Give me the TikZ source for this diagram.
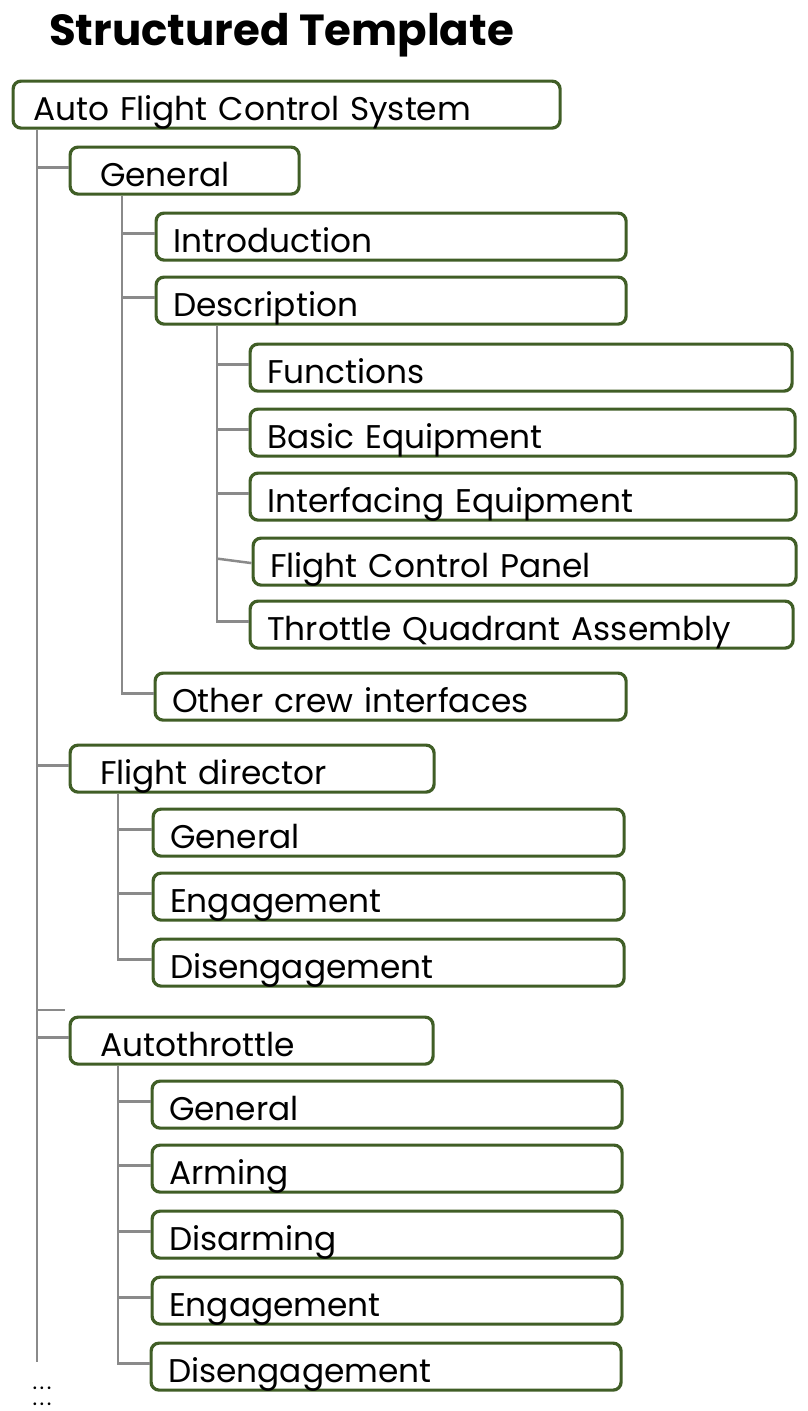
\documentclass[tikz,border=0pt]{standalone}
\usepackage{fontspec}
\setmainfont{Poppins}
\usepackage{tikz}
\usetikzlibrary{positioning}

\definecolor{boxgreen}{RGB}{64,94,38}
\definecolor{linegray}{RGB}{138,138,138}

\tikzset{
  item/.style={draw=boxgreen, line width=3.2pt, rounded corners=8pt, anchor=north west,
    minimum height=47pt, inner ysep=0pt, inner xsep=17pt, text height=32pt, text depth=0pt,
    align=left, font=\fontsize{32.8}{38}\selectfont},
  toplevel/.style={item, inner xsep=30pt},
  link/.style={draw=linegray, line width=2.5pt},
  dots/.style={anchor=base, inner sep=0pt, font=\fontsize{22}{22}\selectfont},
}

\begin{document}
\begin{tikzpicture}[x=1pt, y=-1pt]
  \useasboundingbox (0,0) rectangle (807,1411);

  % Title
  \node[anchor=base west, inner sep=0pt, font=\fontsize{43.5}{50}\selectfont\bfseries] (title) at (49,45) {Structured Template};

  % Root
  \node[item, inner xsep=20pt, text width=507pt] (root) at (11.5,79.5) {Auto Flight Control System};

  % General
  \node[toplevel, text width=169pt] (gen) at (68.5,145.5) {General};
  \node[item, text width=436pt] (intro) at (154.5,211.5) {Introduction};
  \node[item, text width=436pt] (desc) at (154.5,275.5) {Description};
  \node[item, text width=508pt] (func) at (248.5,342.5) {Functions};
  \node[item, text width=511pt] (basic) at (248.5,407.5) {Basic Equipment};
  \node[item, text width=512pt] (iface) at (248.5,471.5) {Interfacing Equipment};
  \node[item, text width=509pt] (fcp) at (251.5,536.5) {Flight Control Panel};
  \node[item, text width=509pt] (tqa) at (248.5,599.5) {Throttle Quadrant Assembly};
  \node[item, text width=437pt] (other) at (153.5,671.5) {Other crew interfaces};

  % Flight director
  \node[toplevel, text width=304pt] (fd) at (68.5,743.5) {Flight director};
  \node[item, text width=437pt] (fdgen) at (151.5,807.5) {General};
  \node[item, text width=437pt] (fdeng) at (151.5,871.5) {Engagement};
  \node[item, text width=437pt] (fddis) at (151.5,937.5) {Disengagement};

  % Autothrottle
  \node[toplevel, text width=303pt] (at) at (68.5,1015.5) {Autothrottle};
  \node[item, text width=436pt] (atgen) at (150.5,1079.5) {General};
  \node[item, text width=436pt] (atarm) at (150.5,1143.5) {Arming};
  \node[item, text width=436pt] (atdisarm) at (150.5,1209.5) {Disarming};
  \node[item, text width=436pt] (ateng) at (150.5,1275.5) {Engagement};
  \node[item, text width=436pt] (atdis) at (149.5,1341.5) {Disengagement};

  % More
  \node[dots] (more1) at (42,1389) {.\hspace{2.5pt}.\hspace{2.5pt}.};
  \node[dots] (more2) at (42,1405) {.\hspace{2.5pt}.\hspace{2.5pt}.};

  % Trunk positions
  \coordinate (mainx) at (37,0);
  \coordinate (genx) at (122,0);
  \coordinate (descx) at (217,0);
  \coordinate (fdx) at (118,0);
  \coordinate (atx) at (118,0);
  \coordinate (stub) at (65,1010);
  \coordinate (tend) at (37,1362);

  % Main trunk
  \draw[link] (mainx |- root.south) -- (tend);
  \draw[link] ([yshift=3pt]mainx |- gen.west) -- ([yshift=3pt]gen.west);
  \draw[link] ([yshift=3pt]mainx |- fd.west) -- ([yshift=3pt]fd.west);
  \draw[link] (mainx |- stub) -- (stub);
  \draw[link] ([yshift=3pt]mainx |- at.west) -- ([yshift=3pt]at.west);

  % General branches
  \draw[link] (genx |- gen.south) -- ([yshift=3pt]genx |- other.west) -- ([yshift=3pt]other.west);
  \foreach \n in {intro,desc}
    \draw[link] ([yshift=3pt]genx |- \n.west) -- ([yshift=3pt]\n.west);

  % Description branches
  \draw[link] (descx |- desc.south) -- ([yshift=3pt]descx |- tqa.west) -- ([yshift=3pt]tqa.west);
  \foreach \n in {func,basic,iface}
    \draw[link] ([yshift=3pt]descx |- \n.west) -- ([yshift=3pt]\n.west);
  \draw[link] ([yshift=3pt]descx |- fcp.west) -- ([yshift=-1.5pt]fcp.west);

  % Flight director branches
  \draw[link] (fdx |- fd.south) -- ([yshift=3pt]fdx |- fddis.west) -- ([yshift=3pt]fddis.west);
  \foreach \n in {fdgen,fdeng}
    \draw[link] ([yshift=3pt]fdx |- \n.west) -- ([yshift=3pt]\n.west);

  % Autothrottle branches
  \draw[link] (atx |- at.south) -- ([yshift=3pt]atx |- atdis.west) -- ([yshift=3pt]atdis.west);
  \foreach \n in {atgen,atarm,atdisarm,ateng}
    \draw[link] ([yshift=3pt]atx |- \n.west) -- ([yshift=3pt]\n.west);
\end{tikzpicture}
\end{document}
